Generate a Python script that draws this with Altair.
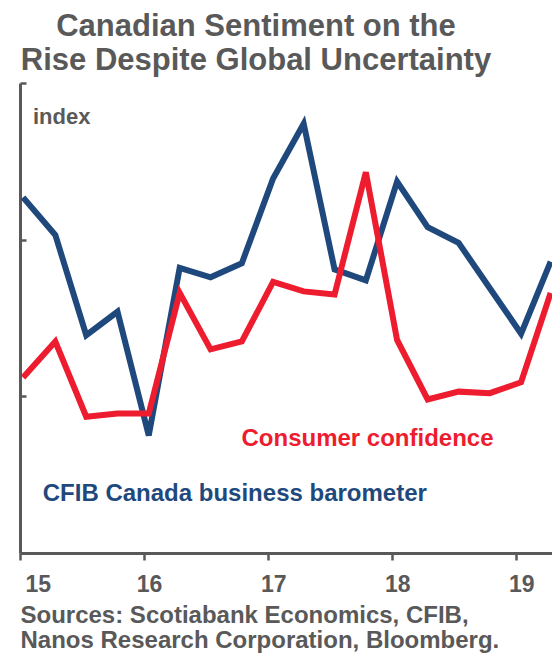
import altair as alt
import pandas as pd

# Quarterly observations (dated mid-month of each quarter's first month)
dates = [
    "2015-01-10", "2015-04-15", "2015-07-15", "2015-10-15",
    "2016-01-15", "2016-04-15", "2016-07-15", "2016-10-15",
    "2017-01-15", "2017-04-15", "2017-07-15", "2017-10-15",
    "2018-01-15", "2018-04-15", "2018-07-15", "2018-10-15",
    "2019-01-15", "2019-04-12",
]
cfib = [2.27, 2.03, 1.39, 1.54, 0.75, 1.82, 1.76, 1.85, 2.39, 2.74,
        1.81, 1.74, 2.37, 2.08, 1.98, 1.69, 1.40, 1.86]
consumer = [1.12, 1.35, 0.87, 0.89, 0.89, 1.66, 1.30, 1.35, 1.73, 1.67,
            1.65, 2.43, 1.36, 0.98, 1.03, 1.02, 1.09, 1.66]

series_names = ["CFIB Canada business barometer", "Consumer confidence"]
series_colors = ["#1F497D", "#ED1C2E"]

label_texts = ["Consumer confidence", "CFIB Canada business barometer"]
label_dates = ["2016-10-14", "2015-03-09"]
label_values = [0.68, 0.33]
label_colors = ["#ED1C2E", "#1F497D"]

unit_text = ["index"]
unit_date = ["2015-02-08"]
unit_value = [2.74]

year_ticks = ["2015-01-01", "2016-01-01", "2017-01-01", "2018-01-01", "2019-01-01"]

GRAY = "#595959"
FONT = "Liberation Sans"
W, H = 532, 470

df = pd.DataFrame({
    "date": dates * 2,
    "value": cfib + consumer,
    "series": [series_names[0]] * len(dates) + [series_names[1]] * len(dates),
})
labels = pd.DataFrame({
    "text": label_texts, "date": label_dates,
    "value": label_values, "color": label_colors,
})
unit = pd.DataFrame({"text": unit_text, "date": unit_date, "value": unit_value})

x_scale = alt.Scale(domain=["2015-01-01", "2019-04-16"])
y_scale = alt.Scale(domain=[0, 3])

lines = alt.Chart(df).mark_line(strokeWidth=6, strokeJoin="miter").encode(
    x=alt.X("date:T", scale=x_scale,
            axis=alt.Axis(values=year_ticks, format="%y",
                          title=["Sources: Scotiabank Economics, CFIB,",
                                 "Nanos Research Corporation, Bloomberg."],
                          titleFont=FONT, titleFontSize=24, titleFontWeight="bold",
                          titleColor=GRAY, titleAnchor="start", titleAlign="left",
                          titleBaseline="alphabetic", titleX=0, titleY=69,
                          titleLineHeight=25,
                          labelFont=FONT, labelFontSize=23, labelFontWeight="bold",
                          labelColor=GRAY, labelPadding=13, labelOffset=5,
                          tickSize=7, tickWidth=2.5, tickColor=GRAY,
                          domainColor=GRAY, domainWidth=3, grid=False)),
    y=alt.Y("value:Q", scale=y_scale,
            axis=alt.Axis(orient="right", offset=-W, values=[0, 1, 2, 3],
                          labels=False, title=None, tickSize=6, tickWidth=2.5,
                          tickColor=GRAY, domainColor=GRAY, domainWidth=3,
                          grid=False)),
    color=alt.Color("series:N", scale=alt.Scale(domain=series_names, range=series_colors),
                    legend=None),
)

texts = alt.Chart(labels).mark_text(
    align="left", baseline="alphabetic", font=FONT, fontWeight="bold", fontSize=24
).encode(
    x=alt.X("date:T", scale=x_scale),
    y=alt.Y("value:Q", scale=y_scale),
    text="text:N",
    color=alt.Color("color:N", scale=None),
)

unit_label = alt.Chart(unit).mark_text(
    align="left", baseline="alphabetic", font=FONT, fontWeight="bold",
    fontSize=22, color=GRAY
).encode(
    x=alt.X("date:T", scale=x_scale),
    y=alt.Y("value:Q", scale=y_scale),
    text="text:N",
)

chart = alt.layer(lines, texts, unit_label).properties(
    width=W, height=H,
    title=alt.TitleParams(
        text=["Canadian Sentiment on the", "Rise Despite Global Uncertainty"],
        font=FONT, fontSize=31, fontWeight="bold", color=GRAY,
        lineHeight=34, anchor="middle", dx=-30, offset=5,
    ),
    autosize=alt.AutoSizeParams(type="none"),
    padding={"left": 20, "top": 83, "right": 0, "bottom": 100},
).configure_view(stroke=None)

chart.save("out.html", embed_options={"renderer": "svg", "actions": False})
